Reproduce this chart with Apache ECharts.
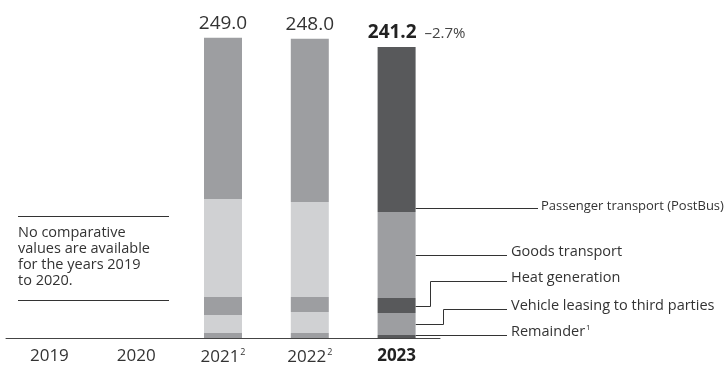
<!DOCTYPE html>
<html>
<head>
<meta charset="utf-8">
<script src="https://cdn.jsdelivr.net/npm/echarts@6/dist/echarts.min.js"></script>
<style>html,body{margin:0;padding:0;background:#fff}#c{width:724px;height:369px}</style>
</head>
<body>
<div id="c"></div>
<script>
const years = ['2019', '2020', '2021', '2022', '2023'];
const yearNotes = ['', '', '2', '2', ''];
const remainder = [null, null, 4.1, 4.1, 2.5];
const leasing = [null, null, 14.9, 17.4, 18.2];
const heat = [null, null, 14.9, 12.4, 12.4];
const goods = [null, null, 81.3, 78.8, 71.3];
const passenger = [null, null, 133.8, 135.3, 136.8];
const totals = ['', '', '249.0', '248.0', '241.2'];
const change2023 = '–2.7%';
const seriesNames = ['Remainder', 'Vehicle leasing to third parties', 'Heat generation', 'Goods transport', 'Passenger transport (PostBus)'];
const noteText = 'No comparative\nvalues are available\nfor the years 2019\nto 2020.';

const FONT = '"Open Sans", "Noto Sans", sans-serif';
const DARK = '#58595b', MED = '#9d9ea1', LIGHT = '#d0d1d3';
const seriesData = [remainder, leasing, heat, goods, passenger];

function colorFor(si, di) {
  if (di === 4) return si % 2 === 0 ? DARK : MED;
  return si % 2 === 0 ? MED : LIGHT;
}

const chart = echarts.init(document.getElementById('c'), null, {renderer: 'canvas'});

const series = seriesData.map((arr, si) => ({
  name: seriesNames[si],
  type: 'bar',
  stack: 'total',
  barWidth: 38,
  data: arr.map((v, di) => ({
    value: v,
    itemStyle: {color: colorFor(si, di)},
    label: di === 4 ? {offset: [20, 0]} : undefined
  })),
  label: si === 4 ? {
    show: true,
    position: 'top',
    distance: 5,
    fontFamily: FONT,
    formatter: p => p.dataIndex === 4 ? '{b|' + totals[4] + '}{p|  ' + change2023 + '}' : '{n|' + totals[p.dataIndex] + '}',
    rich: {
      n: {fontSize: 19, color: '#333', fontFamily: FONT},
      b: {fontSize: 19, fontWeight: 'bold', color: '#222', fontFamily: FONT},
      p: {fontSize: 15, color: '#444', fontFamily: FONT, padding: [2, 0, 0, 0]}
    }
  } : {show: false}
}));

chart.setOption({
  animation: false,
  grid: {left: 6, width: 434, top: 24.4, bottom: 31},
  xAxis: {
    type: 'category',
    data: years,
    axisLine: {lineStyle: {color: '#444', width: 1}},
    axisTick: {show: false},
    axisLabel: {
      interval: 0,
      margin: 10,
      formatter: (v, i) => i === 4 ? '{b|' + v + '}' : '{n|' + v + '}' + (yearNotes[i] ? '{s|' + yearNotes[i] + '}' : ''),
      rich: {
        n: {fontSize: 17, color: '#333', fontFamily: FONT},
        b: {fontSize: 17, fontWeight: 'bold', color: '#222', fontFamily: FONT},
        s: {fontSize: 9, color: '#333', fontFamily: FONT, verticalAlign: 'top', padding: [0, 0, 10, 1]}
      }
    }
  },
  yAxis: {type: 'value', min: 0, max: 260, show: false, splitLine: {show: false}},
  series: series
});

// leader lines and annotations computed from the scales
const cum = [];
let s = 0;
for (let i = 0; i < 5; i++) { cum.push([s, s + seriesData[i][4]]); s += seriesData[i][4]; }
const px = v => chart.convertToPixel({gridIndex: 0}, ['2023', v]);
const barRight = px(0)[0] + 19;
const mid = i => px((cum[i][0] + cum[i][1]) / 2)[1];
const lineStyle = {stroke: '#333', lineWidth: 1, fill: null};
const txtX = 511;
const graphics = [];
function leader(points, label, ty, tx, fs) {
  graphics.push({type: 'polyline', shape: {points: points}, style: lineStyle, silent: true});
  graphics.push({type: 'text', x: tx, y: ty, style: {text: label, fontFamily: FONT, fontSize: fs || 14.5, fill: '#333', verticalAlign: 'bottom'}});
}
const yPass = Math.round(px(cum[3][1] + 3.3)[1]) + 0.5;
leader([[barRight, yPass], [538, yPass]], seriesNames[4], yPass + 4, 541, 13);
const yGoods = Math.round(mid(3)) + 0.5;
leader([[barRight, yGoods], [507, yGoods]], seriesNames[3], yGoods + 4, txtX);
const yHeat = Math.round(mid(2)) + 0.5;
leader([[barRight, yHeat], [430.5, yHeat], [430.5, yHeat - 25], [507, yHeat - 25]], seriesNames[2], yHeat - 21, txtX);
const yLease = Math.round(mid(1)) + 0.5;
leader([[barRight, yLease], [443.5, yLease], [443.5, yLease - 15], [507, yLease - 15]], seriesNames[1], yLease - 11, txtX);
const yRem = Math.round(mid(0)) - 0.5;
graphics.push({type: 'polyline', shape: {points: [[barRight, yRem], [507, yRem]]}, style: lineStyle, silent: true});
graphics.push({type: 'text', x: txtX, y: yRem + 4, style: {
  text: '{n|Remainder}{s|1}', fontFamily: FONT, verticalAlign: 'bottom',
  rich: {n: {fontSize: 14.5, fill: '#333', fontFamily: FONT}, s: {fontSize: 8, fill: '#333', fontFamily: FONT, verticalAlign: 'top', padding: [0, 0, 8, 1]}}
}});
// note box
graphics.push({type: 'line', shape: {x1: 18, y1: 216.5, x2: 169, y2: 216.5}, style: {stroke: '#333', lineWidth: 1}});
graphics.push({type: 'line', shape: {x1: 18, y1: 300.5, x2: 169, y2: 300.5}, style: {stroke: '#333', lineWidth: 1}});
graphics.push({type: 'text', x: 18, y: 225, style: {text: noteText, fontFamily: FONT, fontSize: 14.5, lineHeight: 16, fill: '#333'}});

chart.setOption({graphic: graphics});
</script>
</body>
</html>
